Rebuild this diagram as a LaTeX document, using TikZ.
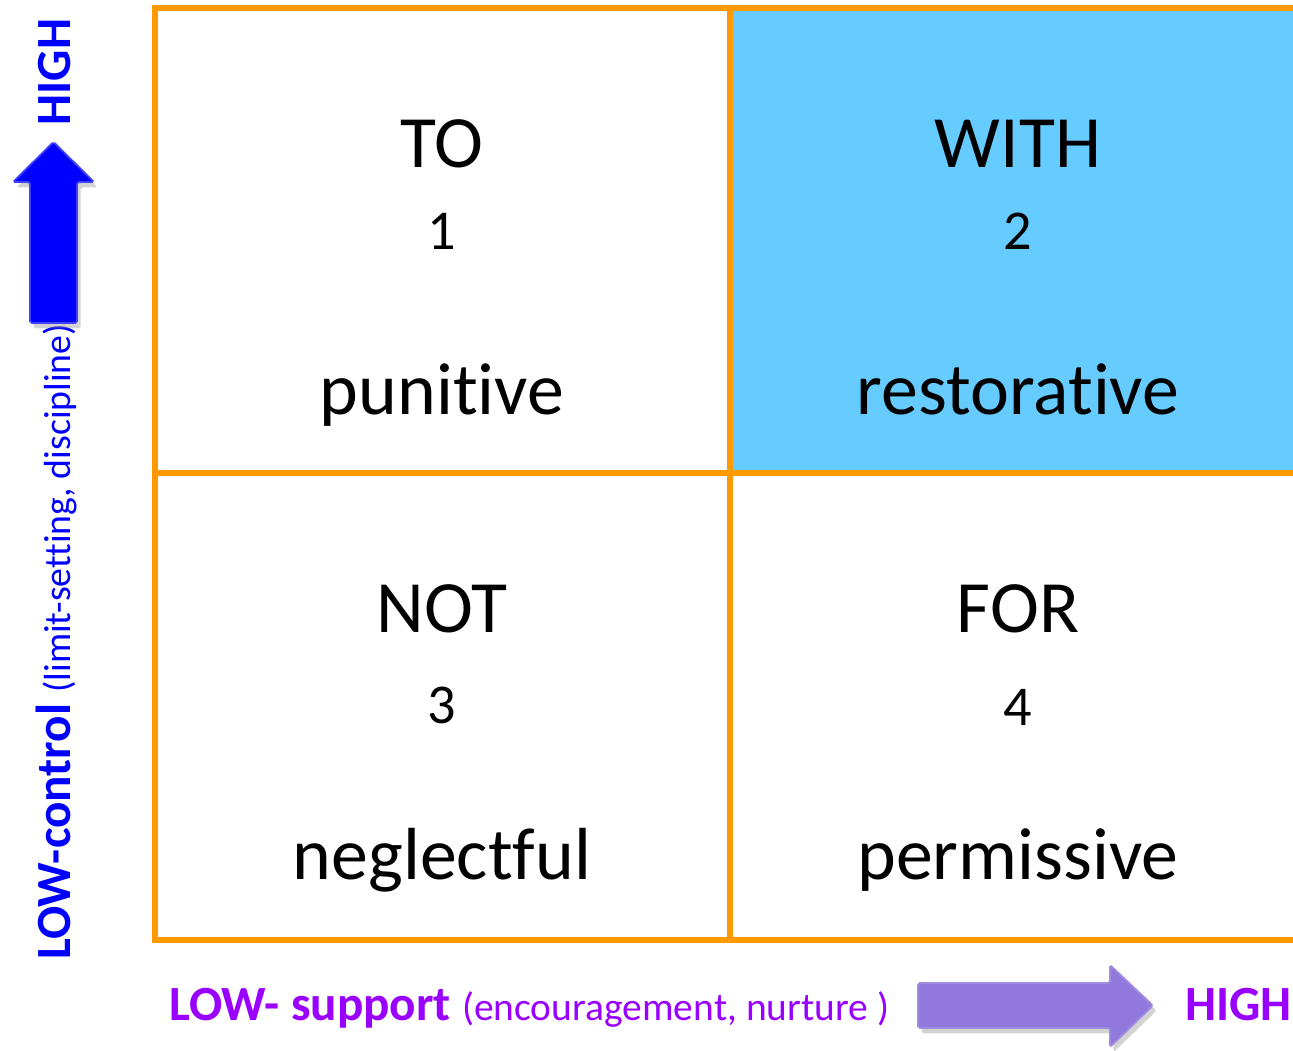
\documentclass[tikz,border=0pt]{standalone}
\usepackage{fontspec}
\setmainfont{Carlito}[Ligatures=NoCommon]
\usepackage{tikz}
\usetikzlibrary{shadows}
\usepackage{xcolor}
\definecolor{ColA}{RGB}{255,153,0}
\definecolor{ColB}{RGB}{102,204,255}
\definecolor{ColC}{RGB}{0,0,255}
\definecolor{ColD}{RGB}{153,0,255}
\definecolor{ColE}{RGB}{145,120,220}
\tikzstyle{Cell}=[rectangle,draw=ColA,line width=0.12cm,inner sep=0pt,outer sep=0pt,
minimum width=11.5cm,minimum height=9.3cm]
\tikzstyle{CellText}=[anchor=base,inner sep=0pt,font=\fontsize{42}{50}\selectfont]
\tikzstyle{CellNum}=[anchor=base,inner sep=0pt,font=\fontsize{32}{38}\selectfont]
\tikzstyle{AxisText}=[inner sep=0pt,font=\fontsize{28}{32}\selectfont\bfseries]
\tikzstyle{ArrowUp}=[fill=ColC,draw=ColC!75!white,line width=1pt,rounded corners=1pt,
drop shadow={shadow xshift=2pt,shadow yshift=-3pt,opacity=.35}]
\tikzstyle{ArrowRight}=[fill=ColE,draw=ColE!85!white,line width=1pt,rounded corners=1pt,
drop shadow={shadow xshift=2pt,shadow yshift=-3pt,opacity=.35}]

\begin{document}
\begin{tikzpicture}[x=0.02cm,y=0.02cm]
        \useasboundingbox(0,0)rectangle(1293,1050);
        \clip(0,0)rectangle(1293,1050);
        % quadrants
        \node[Cell](to)at(442.5,809.5){};
        \node[Cell,fill=ColB](with)at(1017.5,809.5){};
        \node[Cell,minimum height=9.34cm](not)at(442.5,343.5){};
        \node[Cell,minimum height=9.34cm](for)at(1017.5,343.5){};
        \node[CellText](toA)at(442,882){TO};
        \node[CellNum](toB)at(442,800){1};
        \node[CellText](toC)at(442,635){punitive};
        \node[CellText](withA)at(1018,882){WITH};
        \node[CellNum](withB)at(1018,800){2};
        \node[CellText](withC)at(1018,635){restorative};
        \node[CellText](notA)at(442,417){NOT};
        \node[CellNum](notB)at(442,326){3};
        \node[CellText](notC)at(442,170){neglectful};
        \node[CellText](forA)at(1018,417){FOR};
        \node[CellNum](forB)at(1018,324){4};
        \node[CellText](forC)at(1018,170){permissive};
        % control axis
        \node[AxisText,ColC,rotate=90,anchor=base west](control)at(70,90)
            {LOW-control {\fontsize{21.5}{24}\selectfont\mdseries(limit-setting, discipline)}};
        \node[AxisText,ColC,rotate=90,anchor=base](highC)at(70,978){HIGH};
        \draw[ArrowUp](30,727)--(30,868)--(13,868)--(53.5,908)--(94,868)--(77,868)--(77,727)--cycle;
        % support axis
        \node[AxisText,ColD,anchor=base west](support)at(169,30)
            {LOW- support {\fontsize{22.5}{26}\selectfont\mdseries(encouragement, nurture )}};
        \node[AxisText,ColD,anchor=base west](highS)at(1185,30){HIGH};
        \draw[ArrowRight](918,67)--(1110,67)--(1110,85)--(1153,44.5)--(1110,3)--(1110,22)--(918,22)--cycle;
    \end{tikzpicture}
\end{document}
